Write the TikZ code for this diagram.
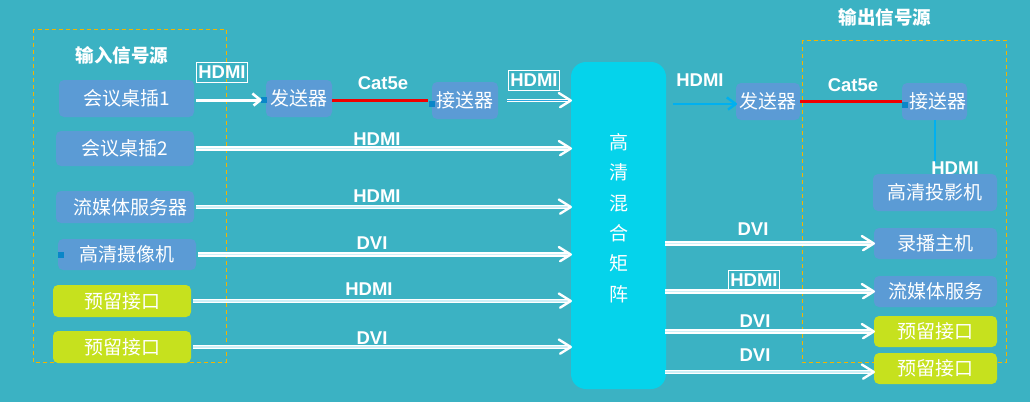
\documentclass[tikz,border=0pt]{standalone}
\usepackage{fontspec}
\setmainfont{Liberation Sans}
\newfontfamily\cjk{Noto Sans CJK SC}
\usetikzlibrary{decorations.markings}
\definecolor{bg}{HTML}{3BB2C3}
\definecolor{boxblue}{HTML}{5B9BD5}
\definecolor{boxgreen}{HTML}{C6E11E}
\definecolor{matcyan}{HTML}{05D3EB}
\definecolor{dashcol}{HTML}{F2B400}
\definecolor{sqblue}{HTML}{0A86C8}
\definecolor{arrblue}{HTML}{00B0F0}
\definecolor{dblin}{HTML}{CDEFF6}
\definecolor{dblblue}{HTML}{2AA8E2}
\definecolor{cablered}{HTML}{F00000}
\tikzset{
  box/.style={rectangle, rounded corners=5pt, fill=boxblue, text=white, inner sep=0pt,
    font=\cjk\fontsize{19}{20}\selectfont, minimum width=#1},
  box/.default=138pt,
  gbox/.style={box=#1, fill=boxgreen},
  gbox/.default=138pt,
  lbl/.style={text=white, font=\bfseries\fontsize{18.5}{20}\selectfont, inner sep=1pt},
  flbl/.style={lbl, draw=white, line width=0.8pt, inner xsep=2pt, inner ysep=3.5pt},
  title/.style={text=white, font=\cjk\bfseries\fontsize{18.5}{20}\selectfont},
  sq/.style={rectangle, fill=sqblue, minimum size=6pt, inner sep=0pt},
  frame/.style={draw=dashcol, dash pattern=on 4pt off 3pt, line width=1pt},
  chev/.style={postaction={decorate, decoration={markings,
      mark=at position 1 with {\draw[#1, line width=2.4pt, line cap=round, line join=round] (-12pt,7.5pt) -- (0,0) -- (-12pt,-7.5pt);}}}},
  dbl/.style={draw=white, line width=1.3pt, double=dblin, double distance=1.6pt, shorten >=1.5pt, chev=white},
  dblb/.style={draw=white, line width=1pt, double=dblblue, double distance=1.6pt, shorten >=1.5pt, chev=white},
  single/.style={draw=white, line width=3pt, shorten >=1.5pt,
     postaction={decorate, decoration={markings,
      mark=at position 1 with {\draw[white, line width=2.6pt, line join=round] (-8pt,6.5pt) -- (0,0) -- (-8pt,-6.5pt);}}}},
  bluearr/.style={draw=arrblue, line width=2.6pt, shorten >=1.5pt,
     postaction={decorate, decoration={markings,
      mark=at position 1 with {\draw[arrblue, line width=2.4pt, line join=round] (-9pt,6.5pt) -- (0,0) -- (-9pt,-6.5pt);}}}},
  cable/.style={draw=cablered, line width=3pt},
}
\begin{document}
\begin{tikzpicture}[x=1pt, y=-1pt]
\fill[bg] (0,0) rectangle (1030,402);
\useasboundingbox (0,0) rectangle (1030,402);

% frames
\draw[frame] (33,29) rectangle (226,362);
\draw[frame] (802,40) rectangle (1006,362);
\node[title] (tin) at (122,55) {输入信号源};
\node[title] (tout) at (885,17) {输出信号源};

% input boxes
\node[box=135pt, minimum height=37pt] (in1) at (126.5,98.5) {会议桌插1};
\node[box, minimum height=35pt] (in2) at (125,148.5) {会议桌插2};
\node[box, minimum height=32pt] (in3) at (125,207) {\hspace{10pt}流媒体服务器};
\node[box, minimum height=31pt] (in4) at (127,254.5) {高清摄像机\hspace{10pt}};
\node[gbox, minimum height=32pt] (in5) at (122,301) {预留接口};
\node[gbox, minimum height=32pt] (in6) at (122,347) {预留接口};
\node[sq, anchor=west] (sq4) at (in4.west) {};

% transmitter / receiver left
\node[box=66pt, minimum height=37pt] (tx1) at (299,98.5) {发送器};
\node[box=66pt, minimum height=37pt] (rx1) at (465,100.5) {接送器};
\node[sq, anchor=east] (sq1) at ([xshift=1pt,yshift=-1.5pt]tx1.west) {};
\node[sq, anchor=east] (sq2) at ([xshift=3pt,yshift=-3.5pt]rx1.west) {};

% matrix
\node[rectangle, rounded corners=15pt, fill=matcyan, minimum width=95pt, minimum height=327pt, inner sep=0pt] (mat) at (618.5,225.5) {};
\node[text=white, font=\cjk\fontsize{19}{30.4}\selectfont, align=center] (mattxt) at (619,218) {高\\清\\混\\合\\矩\\阵};

% transmitter / receiver right
\node[box=64pt, minimum height=37pt] (tx2) at (768,101.5) {发送器};
\node[box=65pt, minimum height=37pt] (rx2) at (934.5,101.5) {\hspace{6pt}接送器};
\node[sq, anchor=west] (sq3) at ([yshift=-3.5pt]rx2.west) {};

% output boxes
\node[box=124pt, minimum height=37pt] (out1) at (935,192.5) {高清投影机};
\node[box=123pt, minimum height=31pt] (out2) at (935.5,243.5) {录播主机};
\node[box=123pt, minimum height=31pt] (out3) at (935.5,291.5) {流媒体服务};
\node[gbox=123pt, minimum height=31pt] (out4) at (935.5,331.5) {预留接口\hspace{20pt}};
\node[gbox=123pt, minimum height=31pt] (out5) at (935.5,368.5) {预留接口\hspace{20pt}};

% top chain left
\draw[single] ([xshift=2pt,yshift=-1.5pt]in1.east) -- (sq1.west);
\draw[cable] ([yshift=-1.5pt]tx1.east) -- ([yshift=-1.5pt]tx1.east -| sq2.west);
\draw[dblb] ([xshift=9pt]rx1.east) -- (rx1.east -| mat.west);
\node[flbl] (l0) at (222,72.5) {HDMI};
\node[lbl] (l1) at (383,83) {Cat5e};
\node[flbl] (l2) at (534,80.5) {HDMI};

% input arrows
\draw[dbl] ([xshift=2pt]in2.east) -- (in2.east -| mat.west);
\draw[dbl] ([xshift=2pt]in3.east) -- (in3.east -| mat.west);
\draw[dbl] ([xshift=2pt]in4.east) -- (in4.east -| mat.west);
\draw[dbl] ([xshift=2pt]in5.east) -- (in5.east -| mat.west);
\draw[dbl] ([xshift=2pt]in6.east) -- (in6.east -| mat.west);
\node[lbl] (l3) at (377,139) {HDMI};
\node[lbl] (l4) at (377,196) {HDMI};
\node[lbl] (l5) at (372,243) {DVI};
\node[lbl] (l6) at (369,289) {HDMI};
\node[lbl] (l7) at (372,338) {DVI};

% top chain right
\draw[bluearr] ([xshift=7pt,yshift=-2.5pt]mat.east |- tx2.west) -- ([yshift=-2.5pt]tx2.west);
\draw[cable] ([yshift=0.5pt]tx2.east) -- ([yshift=0.5pt]tx2.east -| sq3.west);
\coordinate (vend) at (935,163);
\draw[draw=arrblue, line width=2.6pt] (rx2.south -| vend) -- (vend);
\node[lbl] (l8) at (700,80) {HDMI};
\node[lbl] (l9) at (853,85) {Cat5e};
\node[lbl] (l10) at (955,168) {HDMI};

% output arrows
\draw[dbl] ([xshift=-1pt]mat.east |- out2.west) -- (out2.west);
\draw[dbl] ([xshift=-1pt]mat.east |- out3.west) -- (out3.west);
\draw[dbl] ([xshift=-1pt]mat.east |- out4.west) -- (out4.west);
\draw[dbl] ([xshift=-1pt,yshift=-3.5pt]mat.east |- out5.west) -- ([yshift=-3.5pt]out5.west);
\node[lbl] (l11) at (753,229) {DVI};
\node[flbl] (l12) at (754,280.5) {HDMI};
\node[lbl] (l13) at (755,321) {DVI};
\node[lbl] (l14) at (755,355) {DVI};
\end{tikzpicture}
\end{document}
